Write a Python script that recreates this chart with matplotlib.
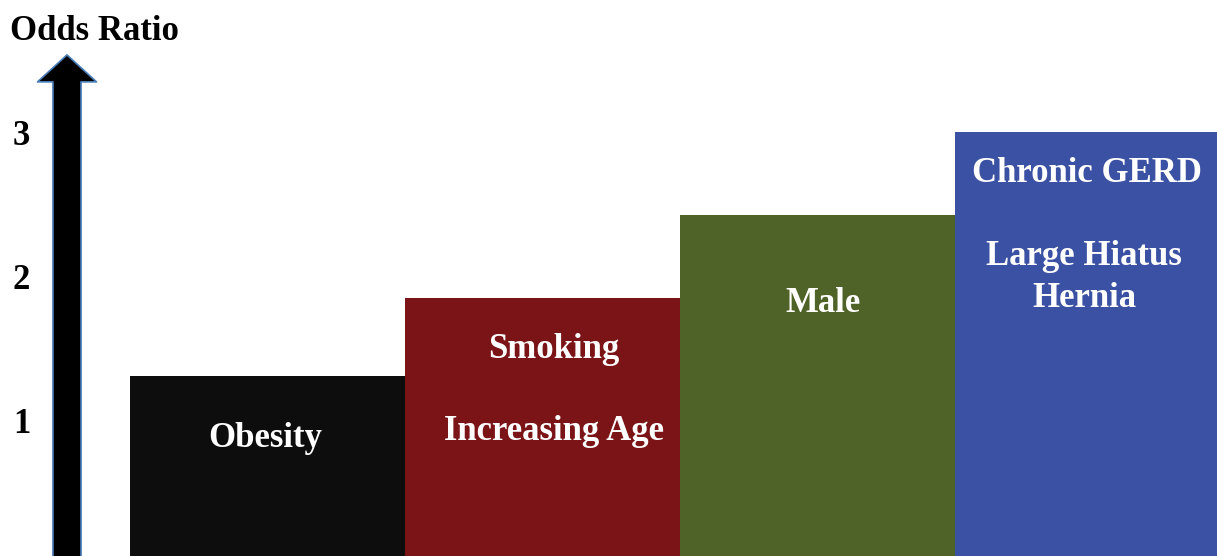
import matplotlib.pyplot as plt
from matplotlib.patches import FancyArrowPatch

# odds ratio per risk-factor group
groups = ['Obesity', 'Smoking\n\nIncreasing Age', 'Male', 'Chronic GERD\n\nLarge Hiatus\nHernia']
odds = [1.31, 1.85, 2.43, 3.01]
colors = ['#0d0d0d', '#7b1416', '#4f6228', '#3b51a3']
yticks = [1, 2, 3]

# text labels inside the bars: (bar index, x offset, baseline y, text)
labels = [
    (0, -0.01, 0.812, 'Obesity'),
    (1, 0.04, 1.432, 'Smoking'),
    (1, 0.04, 0.861, 'Increasing Age'),
    (2, 0.02, 1.75, 'Male'),
    (3, -0.02, 2.66, 'Chronic GERD'),
    (3, -0.03, 2.08, 'Large Hiatus'),
    (3, -0.03, 1.79, 'Hernia'),
]

plt.rcParams['font.family'] = ['Liberation Serif', 'DejaVu Serif']
plt.rcParams['font.weight'] = 'bold'

fig = plt.figure(figsize=(12.17, 5.56), dpi=100)
ax = fig.add_axes([67 / 1217, 0, 1 - 67 / 1217, 1])

x = range(len(odds))
ax.bar(x, odds, width=1.0, color=colors, align='center')

for i, dx, y, txt in labels:
    ax.text(i + dx, y, txt, color='white', fontsize=25, fontweight='bold',
            ha='center', va='baseline')

ax.set_xlim(-0.7291, 3.4527)
ax.set_ylim(0.0523, 3.9268)
ax.set_xticks([])
ax.set_yticks(yticks)
ax.set_yticklabels([str(t) for t in yticks], fontsize=25, fontweight='bold')
ax.tick_params(axis='y', length=0, pad=26.5)
for s in ax.spines.values():
    s.set_visible(False)

# the y axis is drawn as a thick upward arrow
arrow = FancyArrowPatch((-0.7291, -0.5), (-0.7291, 3.544),
                        arrowstyle='simple,head_length=19.4,head_width=42.5,tail_width=20.2',
                        mutation_scale=1, shrinkA=0, shrinkB=0,
                        facecolor='black', edgecolor='#4a7ebb', linewidth=1.2,
                        clip_on=False, zorder=5)
ax.add_patch(arrow)

fig.text(10 / 1217, 1 - 40 / 556, 'Odds Ratio', fontsize=25, fontweight='bold',
         ha='left', va='baseline')

fig.savefig('out.png', dpi=100)
